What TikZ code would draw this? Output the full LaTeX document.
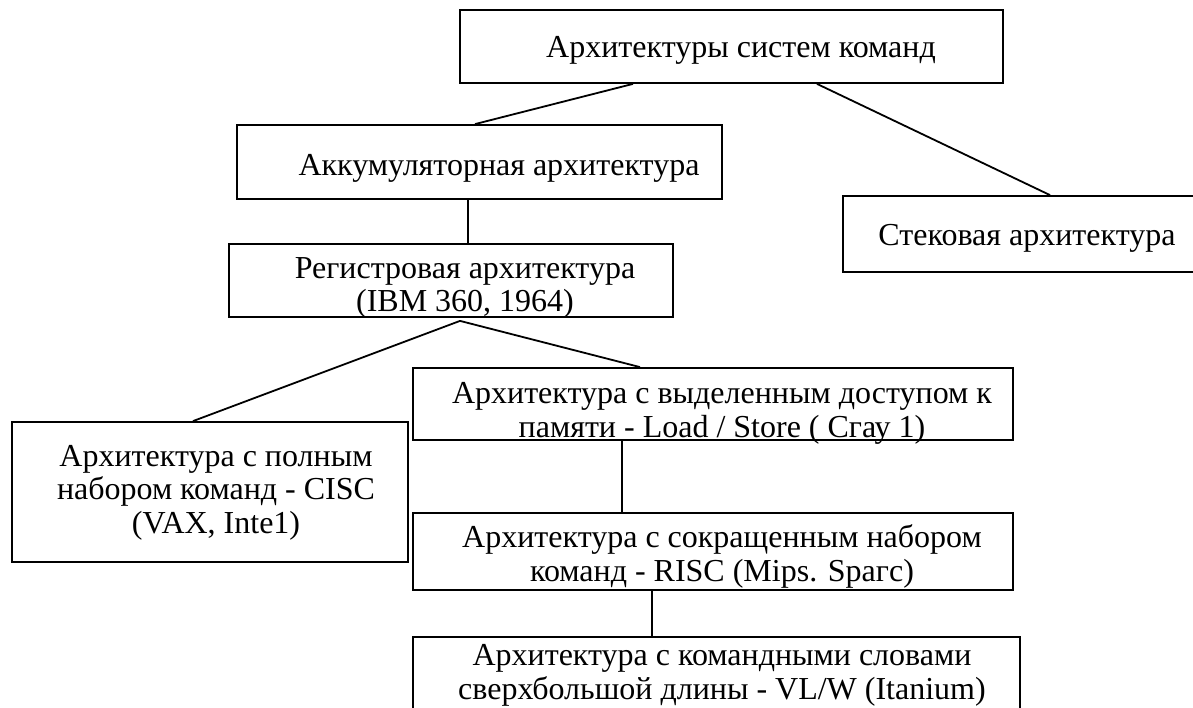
\documentclass[tikz,border=0pt]{standalone}
\usepackage{fontspec}
\setmainfont{Liberation Serif}
\begin{document}
\begin{tikzpicture}[x=1pt,y=-1pt,
  box/.style={draw,line width=1.8pt,inner sep=0pt},
  txt/.style={font=\fontsize{32}{33.5}\selectfont,align=center,inner sep=0pt,anchor=base},
  link/.style={line width=1.8pt}]
\useasboundingbox (0,0) rectangle (1193,708);
\begin{scope}
\clip (0,0) rectangle (1193,708);
% boxes
\node[box,minimum width=543pt,minimum height=73pt] (top)  at (731.5,46.5) {};
\node[box,minimum width=485pt,minimum height=74pt] (acc)  at (479.5,162)  {};
\node[box,minimum width=400pt,minimum height=76pt] (stk)  at (1043,234)   {};
\node[box,minimum width=444pt,minimum height=73pt] (reg)  at (451,280.5)  {};
\node[box,minimum width=396pt,minimum height=140pt](cisc) at (210,492)    {};
\node[box,minimum width=600pt,minimum height=72pt] (ls)   at (713,404)    {};
\node[box,minimum width=600pt,minimum height=77pt] (risc) at (713,551.5)  {};
\node[box,minimum width=607pt,minimum height=83pt] (vliw) at (716.5,678.5){};
% labels (anchored at the baseline of the last line)
\node[txt] (ttop)  at (741,58)  {Архитектуры систем команд};
\node[txt] (tacc)  at (499,176) {Аккумуляторная архитектура};
\node[txt] (tstk)  at (1027,246) {Стековая архитектура};
\node[txt] (treg)  at (465,312) {Регистровая архитектура\\(IBM 360, 1964)};
\node[txt] (tcisc) at (216,533) {Архитектура с полным\\набором команд - CISC\\(VAX, Inte1)};
\node[txt] (tls)   at (722,437) {Архитектура с выделенным доступом к\\памяти - Load / Store ( Сгау 1)};
\node[txt] (trisc) at (722,581) {Архитектура с сокращенным набором\\команд - RISC (Mips. Spaгc)};
\node[txt] (tvliw) at (722,699) {Архитектура с командными словами\\сверхбольшой длины - VL/W (Itanium)};
% connectors
\draw[link] ([xshift=-98.5pt]top.south) -- ([xshift=-4.5pt]acc.north);
\draw[link] ([xshift=85.5pt]top.south) -- ([xshift=7pt]stk.north);
\draw[link] ([xshift=-11.5pt]acc.south) -- ([xshift=17pt]reg.north);
\draw[link] ([xshift=9pt,yshift=-3pt]reg.south) -- ([xshift=-17pt]cisc.north);
\draw[link] ([xshift=9pt,yshift=-3pt]reg.south) -- ([xshift=-73pt]ls.north);
\draw[link] ([xshift=-91pt]ls.south) -- ([xshift=-91pt]risc.north);
\draw[link] ([xshift=-61pt]risc.south) -- ([xshift=-64.5pt]vliw.north);
\end{scope}
\end{tikzpicture}
\end{document}
